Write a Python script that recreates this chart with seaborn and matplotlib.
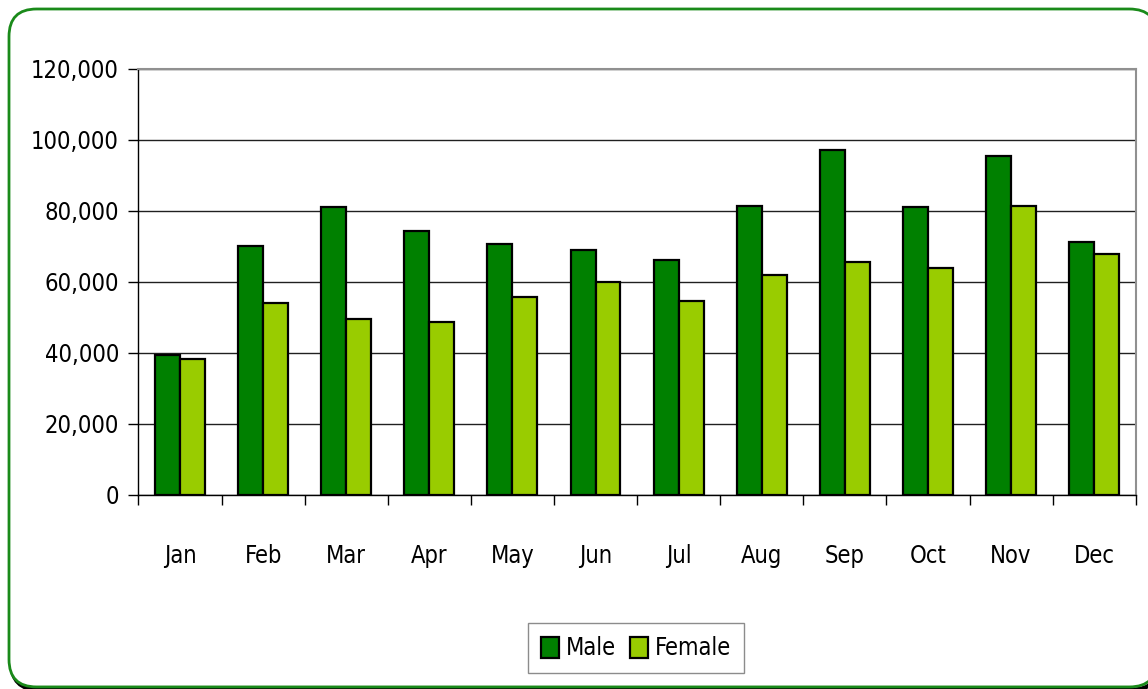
import pandas as pd
import matplotlib
matplotlib.use('Agg')
import matplotlib.pyplot as plt
import seaborn as sns
from matplotlib.patches import FancyBboxPatch
from matplotlib.ticker import FuncFormatter, MultipleLocator, FixedLocator

# Monthly values
months = ['Jan', 'Feb', 'Mar', 'Apr', 'May', 'Jun', 'Jul', 'Aug', 'Sep', 'Oct', 'Nov', 'Dec']
male = [39400, 70000, 81000, 74300, 70600, 68900, 66100, 81500, 97300, 81000, 95600, 71200]
female = [38300, 54000, 49700, 48600, 55800, 60100, 54600, 61900, 65600, 64000, 81500, 67800]
series = ['Male', 'Female']
colors = ['#008000', '#99CC00']

df = pd.DataFrame({
    'month': months * 2,
    'value': male + female,
    'sex': ['Male'] * len(months) + ['Female'] * len(months),
})

sns.set_style('white')
plt.rcParams['font.family'] = ['DejaVu Sans']
plt.rcParams['text.color'] = 'black'
plt.rcParams['xtick.color'] = 'black'
plt.rcParams['ytick.color'] = 'black'

fig = plt.figure(figsize=(11.48, 6.89), dpi=100)
ax = fig.add_axes([0.1206, 0.2816, 0.9893 - 0.1206, 0.8999 - 0.2816])

sns.barplot(data=df, x='month', y='value', hue='sex', hue_order=series,
            order=months, palette=colors, width=0.6, gap=0,
            edgecolor='black', linewidth=1.6, saturation=1, ax=ax, legend=True)

ax.set_xlim(-0.5, 11.5)
ax.set_ylim(0, 120000)
ax.yaxis.set_major_locator(MultipleLocator(20000))
ax.yaxis.set_major_formatter(FuncFormatter(lambda v, p: f'{int(v):,}'))
ax.grid(axis='y', color='#202020', linewidth=1.0)
ax.set_axisbelow(True)
ax.set_xlabel('')
ax.set_ylabel('')

# category-boundary tick marks like the original
ax.xaxis.set_minor_locator(FixedLocator([i - 0.5 for i in range(len(months) + 1)]))
ax.tick_params(axis='x', which='major', bottom=True, length=0, pad=35, labelsize=17,
               labelcolor='black')
ax.tick_params(axis='x', which='minor', bottom=True, length=7, width=1, color='black',
               direction='out')
ax.tick_params(axis='y', which='major', left=True, length=7, width=1, color='black',
               direction='out', pad=7, labelsize=17, labelcolor='black')
for lab in ax.get_xticklabels() + ax.get_yticklabels():
    lab.set_fontstretch('condensed')

for side in ['left', 'bottom']:
    ax.spines[side].set_color('black')
    ax.spines[side].set_linewidth(1.0)
for side in ['top', 'right']:
    ax.spines[side].set_color('#909090')
    ax.spines[side].set_linewidth(1.5)

# legend at the bottom in a box
handles, labels = ax.get_legend_handles_labels()
ax.get_legend().remove()
leg = fig.legend(handles, labels, loc='center', bbox_to_anchor=(0.554, 0.059), ncol=2,
                 frameon=True, fancybox=False, edgecolor='#707070',
                 handlelength=0.75, handleheight=1.0, handletextpad=0.3, columnspacing=0.6,
                 borderpad=0.55, prop={'size': 17, 'stretch': 'condensed'})
leg.get_frame().set_linewidth(1.0)
for t in leg.get_texts():
    t.set_color('black')

# rounded green border around the chart
shadow = FancyBboxPatch((9 / 1148 + 0.002, -0.001), 1.0, 1 - 9 / 689 - 0.003,
                        boxstyle='round,pad=0,rounding_size=0.024', transform=fig.transFigure,
                        facecolor='none', edgecolor='black', linewidth=3, zorder=-2,
                        mutation_aspect=1148 / 689)
border = FancyBboxPatch((9 / 1148, 0.003), 1.0, 1 - 9 / 689 - 0.003,
                        boxstyle='round,pad=0,rounding_size=0.024', transform=fig.transFigure,
                        facecolor='white', edgecolor='#1a8a1a', linewidth=2, zorder=-1,
                        mutation_aspect=1148 / 689)
fig.patches.extend([shadow, border])

fig.savefig('out.png', dpi=100)
